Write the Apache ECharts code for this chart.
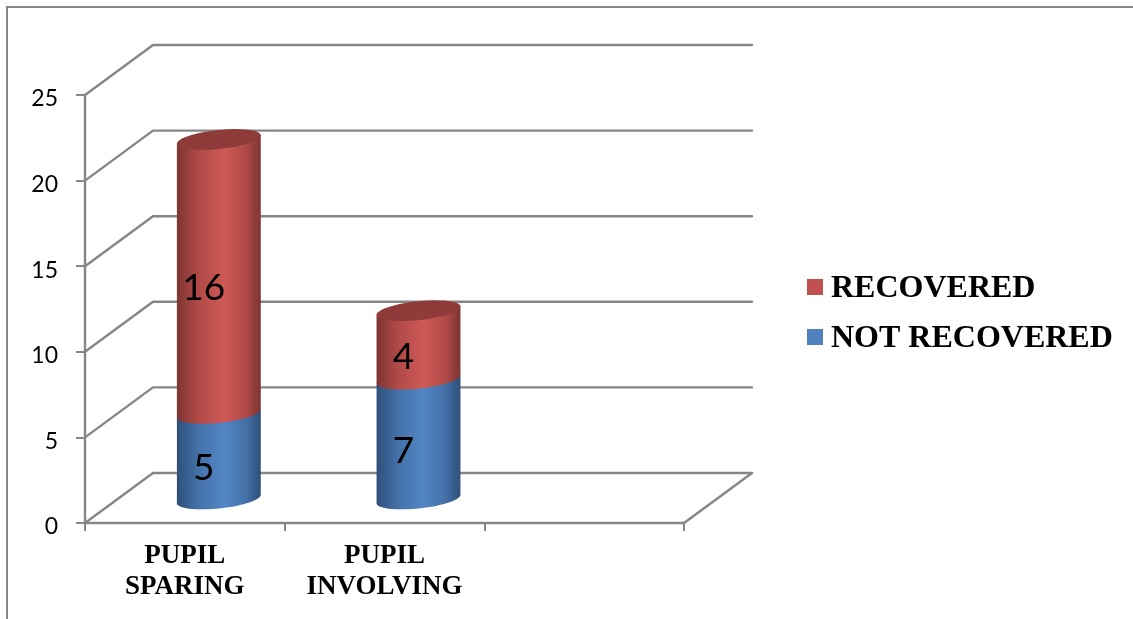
<!DOCTYPE html>
<html>
<head>
<meta charset="utf-8">
<title>Recovery by pupil involvement</title>
<style>
  html, body { margin: 0; padding: 0; background: #fff; }
  #chart { width: 1133px; height: 619px; }
</style>
<script src="https://cdn.jsdelivr.net/npm/echarts@6/dist/echarts.min.js"></script>
</head>
<body>
<div id="chart"></div>
<script>
// Chart values
const categories = ['PUPIL\nSPARING', 'PUPIL\nINVOLVING', ''];
const notRecovered = [5, 7];
const recovered = [16, 4];
const valueTicks = [0, 5, 10, 15, 20, 25];
const legendOrder = ['RECOVERED', 'NOT RECOVERED'];

// Pseudo-3D look: how far the back wall sits behind the front plane, in pixels
const DEPTH_X = 68;
const DEPTH_Y = 50;
const LINE = '#868686';
const LINE_WIDTH = 2.4;

const chart = echarts.init(document.getElementById('chart'), null, { renderer: 'canvas' });

// A point on the sheared ellipse that forms a cylinder's cross-section
function rim(cx, cy, rx, angle) {
  const ry = rx * 0.226;
  const shear = rx * 0.1;
  return [cx + rx * Math.cos(angle),
          cy - shear * Math.cos(angle) + ry * Math.sin(angle)];
}

function arc(cx, cy, rx, from, to) {
  const pts = [];
  const steps = 48;
  for (let i = 0; i <= steps; i++) {
    pts.push(rim(cx, cy, rx, from + (to - from) * i / steps));
  }
  return pts;
}

function sideFill(edge, mid, light) {
  return new echarts.graphic.LinearGradient(0, 0, 1, 0, [
    { offset: 0, color: edge },
    { offset: 0.25, color: mid },
    { offset: 0.56, color: light },
    { offset: 0.82, color: mid },
    { offset: 1, color: edge }
  ]);
}

// One stacked cylinder segment; the cap is only drawn on the topmost series
function cylinder(palette, withCap) {
  return function (params, api) {
    const base = api.coord([api.value(0), api.value(1)]);
    const top = api.coord([api.value(0), api.value(2)]);
    const cx = base[0] + DEPTH_X / 2;
    const rx = api.size([1, 0])[0] * 0.21;
    const lift = DEPTH_Y / 2 - 1;
    const baseY = base[1] - lift;
    const topY = top[1] - lift;
    // Lower half of the rim runs through angle 0..PI (positive sine is downward)
    const lowerRim = arc(cx, baseY, rx, 0, Math.PI);
    const side = lowerRim.concat([rim(cx, topY, rx, Math.PI), rim(cx, topY, rx, 0)]);
    const children = [{
      type: 'polygon',
      shape: { points: side },
      style: { fill: sideFill(palette.edge, palette.mid, palette.light) }
    }];
    if (withCap) {
      children.push({
        type: 'polygon',
        shape: { points: arc(cx, topY, rx, 0, Math.PI * 2) },
        style: { fill: palette.cap }
      });
    }
    const amount = api.value(3);
    const middle = api.coord([api.value(0), (api.value(1) + api.value(2)) / 2]);
    children.push({
      type: 'text',
      x: cx - 15,
      y: middle[1] - 12,
      style: {
        text: String(amount),
        fill: '#000',
        font: '37px Lato',
        align: 'center',
        verticalAlign: 'middle'
      }
    });
    return { type: 'group', children: children };
  };
}

// Back wall gridlines, slanted side-wall lines and the floor edge
function renderWalls(params, api) {
  const sys = params.coordSys;
  const y = api.coord([0, api.value(1)])[1];
  const left = sys.x;
  const right = sys.x + sys.width;
  const stroke = { stroke: LINE, lineWidth: LINE_WIDTH, fill: 'none', lineJoin: 'round', lineCap: 'round' };
  const children = [{
    type: 'polyline',
    shape: { points: [[left, y], [left + DEPTH_X, y - DEPTH_Y], [right + DEPTH_X, y - DEPTH_Y]] },
    style: stroke
  }];
  if (api.value(1) === 0) {
    children.push({
      type: 'line',
      shape: { x1: right, y1: y, x2: right + DEPTH_X, y2: y - DEPTH_Y },
      style: stroke
    });
  }
  return { type: 'group', children: children };
}

const blueData = notRecovered.map(function (v, i) { return [i, 0, v, v]; });
const redData = recovered.map(function (v, i) {
  return [i, notRecovered[i], notRecovered[i] + v, v];
});

chart.setOption({
  animation: false,
  backgroundColor: '#fff',
  grid: { left: 85, right: 449, top: 95, bottom: 96 },
  legend: {
    data: legendOrder,
    orient: 'vertical',
    left: 802,
    top: 268,
    icon: 'rect',
    itemWidth: 16,
    itemHeight: 16,
    itemGap: 18,
    selectedMode: false,
    formatter: '{t|{name}}',
    textStyle: {
      rich: {
        t: {
          color: '#000',
          fontFamily: 'Liberation Serif',
          fontWeight: 'bold',
          fontSize: 32,
          padding: [4, 0, 0, 3]
        }
      }
    }
  },
  xAxis: {
    type: 'category',
    data: categories,
    axisLine: { lineStyle: { color: LINE, width: LINE_WIDTH } },
    axisTick: { show: true, length: 8, lineStyle: { color: LINE, width: 2 } },
    axisLabel: {
      color: '#000',
      fontFamily: 'Liberation Serif',
      fontWeight: 'bold',
      fontSize: 27,
      lineHeight: 31,
      margin: 18,
      interval: 0
    },
    splitLine: { show: false }
  },
  yAxis: {
    type: 'value',
    min: 0,
    max: 25,
    interval: 5,
    axisLine: { show: true, lineStyle: { color: LINE, width: LINE_WIDTH } },
    axisTick: { show: true, length: 9, lineStyle: { color: LINE, width: 2 } },
    axisLabel: {
      color: '#000',
      fontFamily: 'Lato',
      fontSize: 23,
      margin: 27,
      verticalAlign: 'top',
      lineHeight: 8
    },
    splitLine: { show: false }
  },
  series: [
    {
      type: 'custom',
      name: 'Walls',
      silent: true,
      clip: false,
      z: 1,
      renderItem: renderWalls,
      encode: { x: 0, y: 1 },
      data: valueTicks.map(function (t) { return [0, t]; })
    },
    {
      type: 'custom',
      name: 'NOT RECOVERED',
      clip: false,
      z: 2,
      itemStyle: { color: '#4f81bd' },
      renderItem: cylinder({ edge: '#2f4f78', mid: '#4471a8', light: '#5286c6' }, false),
      encode: { x: 0, y: 2 },
      data: blueData
    },
    {
      type: 'custom',
      name: 'RECOVERED',
      clip: false,
      z: 3,
      itemStyle: { color: '#c0504d' },
      renderItem: cylinder({ edge: '#7d3532', mid: '#b04a47', light: '#cf5957', cap: '#8f3b39' }, true),
      encode: { x: 0, y: 2 },
      data: redData
    }
  ],
  graphic: [{
    type: 'polyline',
    silent: true,
    shape: { points: [[7, 630], [7, 7], [1140, 7]] },
    style: { stroke: LINE, lineWidth: 2, fill: 'none' }
  }]
});
</script>
</body>
</html>
